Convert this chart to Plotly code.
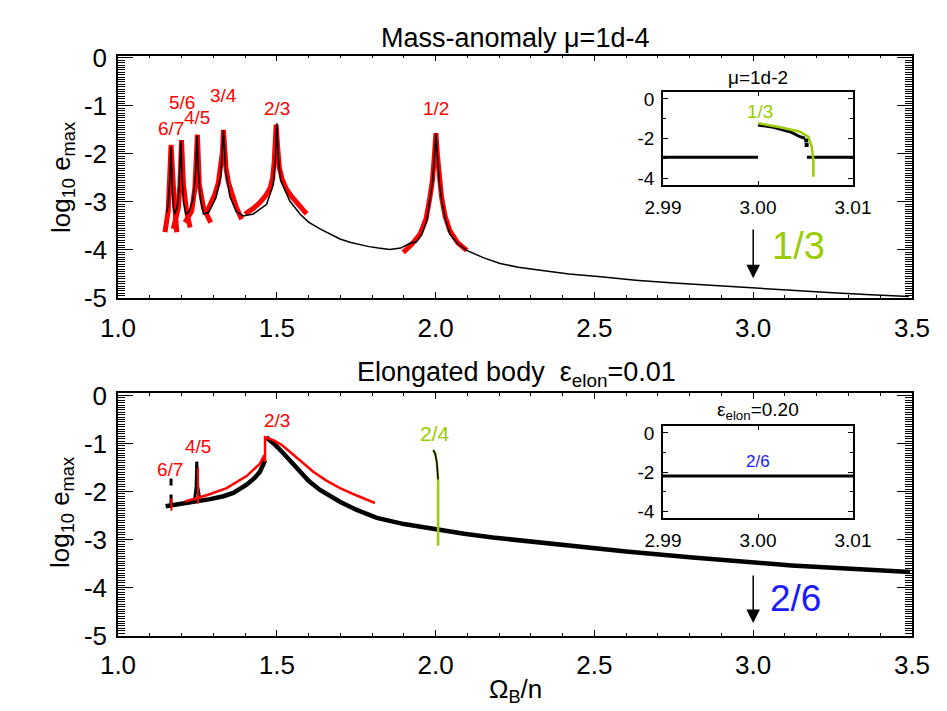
import plotly.graph_objects as go

# ---------------- data: top panel (mass anomaly, mu=1d-4) ----------------
top_black_x = [1.153, 1.158, 1.163, 1.167, 1.170, 1.174, 1.179, 1.186, 1.192, 1.196, 1.198, 1.201,
               1.206, 1.214, 1.224, 1.236, 1.244, 1.249, 1.253, 1.260, 1.269, 1.285, 1.308, 1.324,
               1.332, 1.339, 1.352, 1.372, 1.395, 1.426, 1.468, 1.489, 1.496, 1.500, 1.505, 1.512,
               1.520, 1.541, 1.573, 1.600, 1.636, 1.670, 1.699, 1.730, 1.760, 1.790, 1.820, 1.856,
               1.890, 1.919, 1.940, 1.956, 1.972, 1.982, 1.990, 1.996, 2.001, 2.006, 2.012, 2.020,
               2.030, 2.045, 2.070, 2.098, 2.150, 2.203, 2.260, 2.330, 2.420, 2.520, 2.630, 2.750,
               2.870, 3.000, 3.120, 3.250, 3.370, 3.490]
top_black_y = [-3.22, -3.05, -2.55, -1.85, -2.55, -3.10, -3.25, -3.12, -2.75, -2.25, -1.72, -2.35,
               -3.00, -3.25, -3.20, -2.95, -2.45, -1.62, -2.35, -2.95, -3.25, -3.22, -2.92, -2.45,
               -1.50, -2.35, -2.88, -3.20, -3.29, -3.25, -3.05, -2.64, -2.05, -1.36, -2.10, -2.55,
               -2.67, -2.98, -3.25, -3.42, -3.56, -3.68, -3.77, -3.84, -3.89, -3.93, -3.96, -3.99,
               -3.96, -3.86, -3.83, -3.68, -3.40, -3.00, -2.60, -2.10, -1.57, -2.10, -2.60, -3.00,
               -3.35, -3.67, -3.87, -4.01, -4.16, -4.28, -4.36, -4.42, -4.50, -4.56, -4.63, -4.69,
               -4.74, -4.79, -4.84, -4.89, -4.93, -4.97]

red67_x = [1.148, 1.158, 1.164, 1.167, 1.174, 1.179, 1.185]
red67_y = [-3.63, -3.19, -2.29, -1.81, -2.64, -3.32, -3.63]
red56_x = [1.174, 1.190, 1.195, 1.200, 1.206, 1.216, 1.227]
red56_y = [-3.56, -3.12, -2.64, -1.71, -2.64, -3.19, -3.53]
red45_x = [1.211, 1.232, 1.242, 1.250, 1.256, 1.269, 1.292]
red45_y = [-3.43, -3.19, -2.71, -1.60, -2.64, -3.12, -3.43]
red34_x = [1.279, 1.295, 1.305, 1.316, 1.324, 1.329, 1.332, 1.336, 1.340, 1.348, 1.358, 1.372, 1.389]
red34_y = [-3.22, -3.00, -2.84, -2.60, -2.29, -1.95, -1.50, -1.95, -2.29, -2.60, -2.84, -3.10, -3.36]
red23_x = [1.400, 1.425, 1.447, 1.465, 1.479, 1.487, 1.492, 1.496, 1.498, 1.502, 1.508, 1.518,
           1.531, 1.547, 1.563, 1.580, 1.594]
red23_y = [-3.25, -3.14, -3.01, -2.87, -2.71, -2.50, -2.15, -1.75, -1.39, -1.80, -2.29, -2.55,
           -2.74, -2.89, -3.01, -3.14, -3.25]
red12_x = [1.898, 1.925, 1.951, 1.970, 1.982, 1.990, 1.996, 2.001, 2.006, 2.012, 2.019, 2.030,
           2.045, 2.070, 2.098]
red12_y = [-4.05, -3.88, -3.67, -3.35, -2.91, -2.55, -2.05, -1.57, -2.05, -2.55, -2.91, -3.30,
           -3.60, -3.85, -4.01]

top_labels = ["6/7", "5/6", "4/5", "3/4", "2/3", "1/2"]
top_label_x = [1.167, 1.201, 1.249, 1.331, 1.500, 2.001]
top_label_y = [-1.47, -0.92, -1.25, -0.79, -1.06, -1.06]

# inset (mu=1d-2)
in1_blk_left_x = [2.990, 3.000]
in1_blk_left_y = [-2.95, -2.95]
in1_blk_right_x = [3.00515, 3.010]
in1_blk_right_y = [-2.95, -2.95]
in1_blk_mid_x = [3.0000, 3.00162, 3.00337, 3.00442, 3.00495]
in1_blk_mid_y = [-1.32, -1.43, -1.66, -1.91, -1.99]
in1_dot_x = [3.00512, 3.00508]
in1_dot_y = [-2.33, -2.10]
in1_grn_x = [3.0000, 3.00232, 3.00442, 3.00530, 3.00565, 3.00583, 3.00583]
in1_grn_y = [-1.23, -1.43, -1.66, -1.91, -2.41, -3.09, -3.93]

# ---------------- data: bottom panel (elongated body) ----------------
bot_black_left_x = [1.150, 1.170, 1.195, 1.227, 1.260, 1.290, 1.332, 1.363, 1.405, 1.430, 1.447, 1.456, 1.463]
bot_black_left_y = [-2.31, -2.29, -2.27, -2.22, -2.19, -2.16, -2.10, -2.03, -1.86, -1.72, -1.59, -1.48, -1.35]
bot_black_right_x = [1.466, 1.490, 1.520, 1.550, 1.573, 1.600, 1.636, 1.670, 1.700, 1.750, 1.815,
                     1.900, 2.000, 2.090, 2.180, 2.250, 2.330, 2.450, 2.600, 2.800, 3.000, 3.120,
                     3.250, 3.370, 3.494]
bot_black_right_y = [-0.87, -1.00, -1.20, -1.42, -1.60, -1.78, -1.97, -2.11, -2.22, -2.38, -2.55,
                     -2.68, -2.79, -2.88, -2.96, -3.01, -3.07, -3.15, -3.25, -3.37, -3.48, -3.54,
                     -3.59, -3.64, -3.68]
bot_spike67_x = [1.167, 1.167]
bot_spike67_y = [-2.25, -1.73]
bot_spike45_x = [1.241, 1.246, 1.248, 1.251, 1.257]
bot_spike45_y = [-2.18, -1.90, -1.38, -1.90, -2.13]

bot_red_x = [1.211, 1.279, 1.342, 1.405, 1.447, 1.460, 1.463, 1.463, 1.489, 1.515, 1.542, 1.575,
             1.615, 1.655, 1.699, 1.750, 1.809]
bot_red_y = [-2.21, -2.08, -1.93, -1.68, -1.42, -1.25, -1.38, -0.87, -0.93, -1.03, -1.18, -1.37,
             -1.59, -1.77, -1.93, -2.08, -2.24]
bot_red67_x = [1.168, 1.168]
bot_red67_y = [-2.14, -2.40]
bot_red45_x = [1.252, 1.252]
bot_red45_y = [-1.50, -2.25]

bot_grn_x = [1.993, 1.999, 2.004, 2.007, 2.008, 2.008, 2.008]
bot_grn_y = [-1.14, -1.22, -1.40, -1.60, -1.80, -2.50, -3.13]
bot_grn_blk_x = [1.993, 1.999, 2.004, 2.007, 2.008]
bot_grn_blk_y = [-1.14, -1.22, -1.40, -1.60, -1.75]

bot_labels = ["6/7", "4/5", "2/3"]
bot_label_x = [1.164, 1.253, 1.500]
bot_label_y = [-1.55, -1.07, -0.52]
bot_label_2_4 = ("2/4", 1.998, -0.80)

# inset (eps=0.20)
in2_blk_x = [2.990, 3.010]
in2_blk_y = [-2.20, -2.20]

# arrows (x, y_start, y_tip) and big labels
arrow_top = (3.0, -3.54, -4.59)
arrow_bot = (3.0, -3.72, -4.74)
big_top_label = ("1/3", 3.142, -3.91)
big_bot_label = ("2/6", 3.132, -4.23)

main_xticks = [1.0, 1.5, 2.0, 2.5, 3.0, 3.5]
main_yticks = [0, -1, -2, -3, -4, -5]
inset_xticks = [2.99, 3.00, 3.01]
inset_xticktext = ["2.99", "3.00", "3.01"]
inset_yticks = [0, -2, -4]

GREEN = "#99cc00"
RED = "#ff0000"
BLUE = "#1a1aff"
FONT = "Liberation Sans"

W, H, OFF = 947, 711, 8   # page offset of the plot div


def px(x):
    return (x - OFF) / W


def py(y):
    return 1 - (y - OFF) / H


fig = go.Figure()


def line(x, y, color, width, xa, ya, dash=None):
    fig.add_trace(go.Scatter(x=x, y=y, mode="lines", xaxis=xa, yaxis=ya, showlegend=False,
                             line=dict(color=color, width=width, dash=dash), hoverinfo="skip"))


# top panel: red fits under black
for rx, ry in [(red67_x, red67_y), (red56_x, red56_y), (red45_x, red45_y),
               (red34_x, red34_y), (red23_x, red23_y), (red12_x, red12_y)]:
    line(rx, ry, RED, 5, "x", "y")
line(top_black_x, top_black_y, "black", 1.5, "x", "y")

# top inset
line(in1_blk_left_x, in1_blk_left_y, "black", 3, "x3", "y3")
line(in1_blk_right_x, in1_blk_right_y, "black", 3, "x3", "y3")
line(in1_blk_mid_x, in1_blk_mid_y, "black", 3, "x3", "y3")
fig.add_trace(go.Scatter(x=in1_dot_x, y=in1_dot_y, mode="markers", xaxis="x3", yaxis="y3",
                         showlegend=False, marker=dict(color="black", size=4, symbol="square")))
line(in1_grn_x, in1_grn_y, GREEN, 2.5, "x3", "y3")

# bottom panel
line(bot_black_left_x, bot_black_left_y, "black", 4.5, "x2", "y2")
line(bot_black_right_x, bot_black_right_y, "black", 4.5, "x2", "y2")
line(bot_spike67_x, bot_spike67_y, "black", 3, "x2", "y2", dash="dash")
line(bot_spike45_x, bot_spike45_y, "black", 3, "x2", "y2")
line(bot_red_x, bot_red_y, RED, 2.5, "x2", "y2")
line(bot_red67_x, bot_red67_y, RED, 2, "x2", "y2")
line(bot_red45_x, bot_red45_y, RED, 2, "x2", "y2")
line(bot_grn_x, bot_grn_y, GREEN, 2.5, "x2", "y2")
line(bot_grn_blk_x, bot_grn_blk_y, "black", 1.5, "x2", "y2")

# bottom inset
line(in2_blk_x, in2_blk_y, "black", 3, "x4", "y4")

main_dom_x = [px(118), px(912)]
top_dom_y = [py(298), py(55.5)]
bot_dom_y = [py(635.5), py(393)]
in_dom_x = [px(663), px(853)]
in1_dom_y = [py(185), py(92)]
in2_dom_y = [py(518), py(426)]

tickfont = dict(family=FONT, size=26, color="black")
insetfont = dict(family=FONT, size=19, color="black")


def main_x(anchor):
    return dict(domain=main_dom_x, anchor=anchor, range=[1.0, 3.5], tickvals=main_xticks,
                ticktext=[f"{v:.1f}" for v in main_xticks],
                ticks="inside", ticklen=6, tickwidth=1, tickcolor="black", mirror="ticks",
                showline=True, linecolor="black", linewidth=1.5, showgrid=False, zeroline=False,
                tickfont=tickfont, ticklabelstandoff=6, automargin=False,
                minor=dict(dtick=0.1, ticks="inside", ticklen=3, tickcolor="black", tickwidth=1))


def main_y(anchor, domain):
    return dict(domain=domain, anchor=anchor, range=[-5.0, 0.05], tickvals=main_yticks,
                ticktext=[str(v) for v in main_yticks],
                ticks="inside", ticklen=15, tickwidth=1, tickcolor="black", mirror="ticks",
                showline=True, linecolor="black", linewidth=1.5, showgrid=False, zeroline=False,
                tickfont=tickfont, ticklabelstandoff=4, automargin=False,
                minor=dict(dtick=0.05, tick0=0, ticks="inside", ticklen=7, tickcolor="black", tickwidth=1))


def inset_x(anchor):
    return dict(domain=in_dom_x, anchor=anchor, range=[2.99, 3.01], tickvals=inset_xticks,
                ticktext=inset_xticktext, ticks="inside", ticklen=4, tickcolor="black",
                mirror="ticks", showline=True, linecolor="black", linewidth=1.5, showgrid=False,
                zeroline=False, tickfont=insetfont, ticklabelstandoff=4, automargin=False)


def inset_y(anchor, domain):
    return dict(domain=domain, anchor=anchor, range=[-4.35, 0.35], tickvals=inset_yticks,
                ticktext=[str(v) for v in inset_yticks], ticks="inside", ticklen=5, tickcolor="black",
                mirror="ticks", showline=True, linecolor="black", linewidth=1.5, showgrid=False,
                zeroline=False, tickfont=insetfont, ticklabelstandoff=3, automargin=False,
                minor=dict(dtick=1, tick0=0, ticks="inside", ticklen=3, tickcolor="black"))


def ann(text, x, y, xref, yref, size, color, **kw):
    d = dict(text=text, x=x, y=y, xref=xref, yref=yref, showarrow=False, xanchor="center",
             yanchor="middle", font=dict(family=FONT, size=size, color=color))
    d.update(kw)
    return d


annotations = []
for t, x, y in zip(top_labels, top_label_x, top_label_y):
    annotations.append(ann(t, x, y, "x", "y", 19, RED))
for t, x, y in zip(bot_labels, bot_label_x, bot_label_y):
    annotations.append(ann(t, x, y, "x2", "y2", 19, RED))
annotations.append(ann(bot_label_2_4[0], bot_label_2_4[1], bot_label_2_4[2], "x2", "y2", 21, GREEN))
# inset labels
annotations.append(ann("1/3", 3.0002, -0.65, "x3", "y3", 19, GREEN))
annotations.append(ann("2/6", 3.0, -1.45, "x4", "y4", 17, BLUE))
annotations.append(ann("\u03bc=1d-2", px(758), py(78), "paper", "paper", 19, "black"))
annotations.append(ann("\u03b5<sub>elon</sub>=0.20", px(758), py(411), "paper", "paper", 19, "black"))
# arrows
for (ax_, y0, y1), xr, yr in [(arrow_top, "x", "y"), (arrow_bot, "x2", "y2")]:
    annotations.append(dict(text="", x=ax_, y=y1, ax=ax_, ay=y0, xref=xr, yref=yr, axref=xr, ayref=yr,
                            showarrow=True, arrowhead=2, arrowsize=1.8, arrowwidth=1.5,
                            arrowcolor="black", standoff=0, startstandoff=0))
annotations.append(ann(big_top_label[0], big_top_label[1], big_top_label[2], "x", "y", 38, GREEN))
annotations.append(ann(big_bot_label[0], big_bot_label[1], big_bot_label[2], "x2", "y2", 37, BLUE))
# titles
annotations.append(ann("Mass-anomaly \u03bc=1d-4", px(515), py(38), "paper", "paper", 27, "black"))
annotations.append(ann("Elongated body  \u03b5<sub>elon</sub>=0.01", px(516), py(374),
                       "paper", "paper", 27, "black"))
annotations.append(ann("\u03a9<sub>B</sub>/n", px(515), py(690), "paper", "paper", 26, "black"))
for yc in [178, 513]:
    annotations.append(ann("log<sub>10</sub> e<sub>max</sub>", px(62), py(yc), "paper", "paper",
                           26, "black", textangle=-90))

fig.update_layout(
    template="none",
    width=W, height=H, margin=dict(l=0, r=0, t=0, b=0, autoexpand=False),
    paper_bgcolor="white", plot_bgcolor="rgba(0,0,0,0)", showlegend=False,
    xaxis=main_x("y"), yaxis=main_y("x", top_dom_y),
    xaxis2=main_x("y2"), yaxis2=main_y("x2", bot_dom_y),
    xaxis3=inset_x("y3"), yaxis3=inset_y("x3", in1_dom_y),
    xaxis4=inset_x("y4"), yaxis4=inset_y("x4", in2_dom_y),
    annotations=annotations,
)

fig.write_html("out.html")
